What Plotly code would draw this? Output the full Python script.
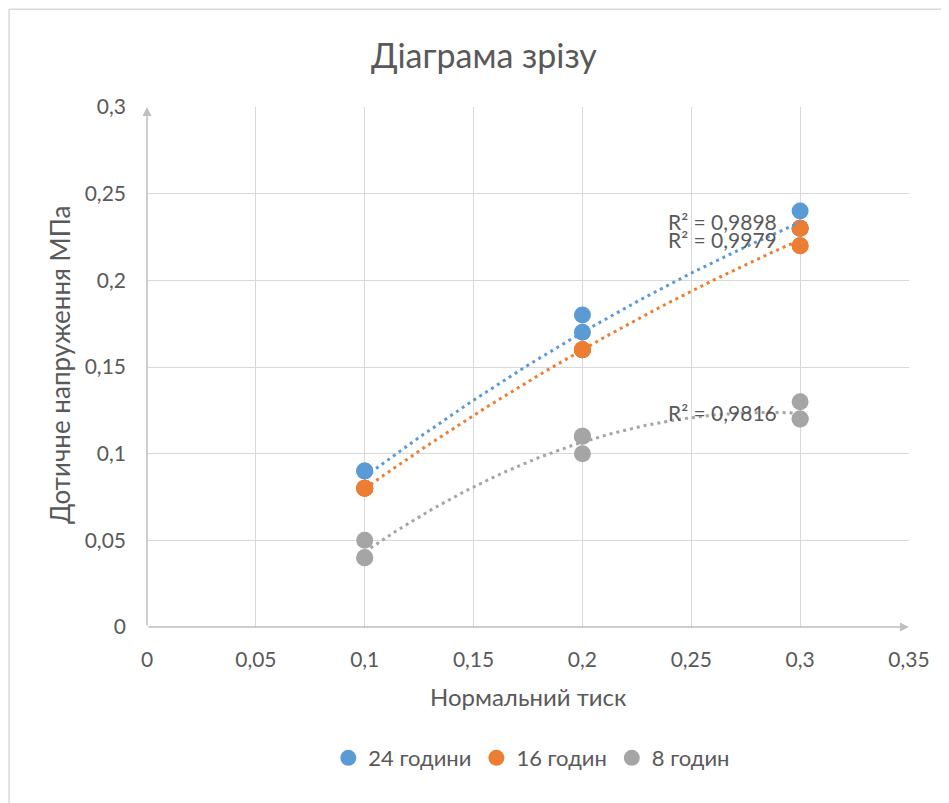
import numpy as np
import plotly.graph_objects as go

# Data
x_vals = [0.1, 0.1, 0.1, 0.2, 0.2, 0.2, 0.3, 0.3, 0.3]
y_24 = [0.08, 0.09, 0.09, 0.16, 0.17, 0.18, 0.23, 0.23, 0.24]
y_16 = [0.08, 0.08, 0.08, 0.16, 0.16, 0.16, 0.22, 0.22, 0.23]
y_8 = [0.04, 0.04, 0.05, 0.10, 0.11, 0.11, 0.12, 0.12, 0.13]
series_names = ["24 години", "16 годин", "8 годин"]
colors = ["#5B9BD5", "#ED7D31", "#A5A5A5"]
r2_label_y = [0.2337, 0.2233, 0.124]

x_ticks = [0, 0.05, 0.1, 0.15, 0.2, 0.25, 0.3, 0.35]
y_ticks = [0, 0.05, 0.1, 0.15, 0.2, 0.25, 0.3]

FONT = "Lato"
TXT = "#595959"

fig = go.Figure()
xs = np.array(x_vals)
for name, ys, col in zip(series_names, [y_24, y_16, y_8], colors):
    fig.add_trace(go.Scatter(x=x_vals, y=ys, mode="markers", name=name,
                             marker=dict(color=col, size=17)))

for name, ys, col, ly in zip(series_names, [y_24, y_16, y_8], colors, r2_label_y):
    ys = np.array(ys)
    c = np.polyfit(xs, ys, 2)
    xx = np.linspace(xs.min(), xs.max(), 100)
    fig.add_trace(go.Scatter(x=xx, y=np.polyval(c, xx), mode="lines", showlegend=False,
                             hoverinfo="skip",
                             line=dict(color=col, width=3, dash="3px,4px")))
    pred = np.polyval(c, xs)
    r2 = 1 - np.sum((ys - pred) ** 2) / np.sum((ys - ys.mean()) ** 2)
    fig.add_annotation(x=0.2385, y=ly, xref="x", yref="y", xanchor="left", yanchor="middle",
                       text=f"R² = {r2:.4f}".replace(".", ","), showarrow=False,
                       font=dict(family=FONT, size=21, color=TXT))

# axis arrows
fig.add_annotation(x=0, y=0.3, ax=0, ay=0, xref="x", yref="y", axref="x", ayref="y",
                   text="", showarrow=True, arrowhead=2, arrowsize=1.2, arrowwidth=1.5,
                   arrowcolor="#BFBFBF")
fig.add_annotation(x=0.35, y=0, ax=0, ay=0, xref="x", yref="y", axref="x", ayref="y",
                   text="", showarrow=True, arrowhead=2, arrowsize=1.2, arrowwidth=1.5,
                   arrowcolor="#BFBFBF")

# titles
fig.add_annotation(x=0.442, y=1.1, xref="paper", yref="paper", text="Діаграма зрізу",
                   showarrow=False, font=dict(family=FONT, size=34, color=TXT),
                   xanchor="center", yanchor="middle")
fig.add_annotation(x=-0.114, y=0.504, xref="paper", yref="paper", text="Дотичне напруження МПа",
                   showarrow=False, textangle=-90, font=dict(family=FONT, size=26, color=TXT),
                   xanchor="center", yanchor="middle")
fig.add_annotation(x=0.5, y=-0.1346, xref="paper", yref="paper", text="Нормальний тиск",
                   showarrow=False, font=dict(family=FONT, size=24, color=TXT),
                   xanchor="center", yanchor="middle")

# outer chart border
fig.add_shape(type="rect", xref="paper", yref="paper", x0=-0.181, x1=1.2, y0=-0.5, y1=1.188,
              line=dict(color="#D9D9D9", width=1.5), fillcolor="rgba(0,0,0,0)", layer="below")

fig.update_xaxes(range=[0, 0.35], tickvals=x_ticks, showgrid=True, gridcolor="#D9D9D9",
                 gridwidth=1.3, zeroline=False, showline=False, ticks="", ticklabelstandoff=18,
                 tickfont=dict(family=FONT, size=21, color=TXT))
fig.update_yaxes(range=[0, 0.3], tickvals=y_ticks, showgrid=True, gridcolor="#D9D9D9",
                 gridwidth=1.3, zeroline=False, showline=False, ticks="", ticklabelstandoff=20,
                 tickfont=dict(family=FONT, size=21, color=TXT))

fig.update_layout(
    width=941, height=795,
    margin=dict(l=139, r=40, t=99, b=176),
    paper_bgcolor="white", plot_bgcolor="white",
    separators=", ",
    showlegend=True,
    legend=dict(orientation="h", x=0.505, xanchor="center", y=-0.252, yanchor="middle",
                font=dict(family=FONT, size=22, color=TXT), itemwidth=30,
                tracegroupgap=0),
    font=dict(family=FONT, color=TXT),
)

fig.write_html("out.html")
